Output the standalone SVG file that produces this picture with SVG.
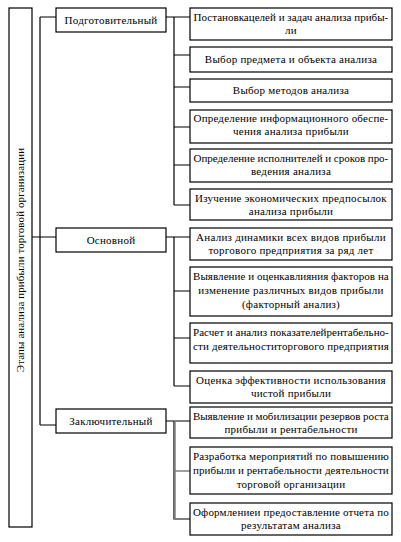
<svg xmlns="http://www.w3.org/2000/svg" width="401" height="542" viewBox="0 0 401 542">
<style>
.b{fill:#fff;stroke:#000;stroke-width:1.2}
.t{font-size:11px;letter-spacing:0.25px;fill:#000;text-anchor:middle}
.v{letter-spacing:0.1px}
.c{fill:none;stroke:#000;stroke-width:1.2}
.g{fill:none;stroke:#808080;stroke-width:1.5}
</style>
<rect width="401" height="542" fill="#fff"/>
<g id="connectors">
<path class="c" d="M40,17V425M40,17H56M32,237H56M40,425H56"/>
<path class="c" d="M166,17H174M174,17V205M174,17H190M174,55H190M174,87H190M174,127H190M174,165H190M174,205H190"/>
<path class="c" d="M166,237H190M174,237V386M174,291H190M174,338H190M174,386H190"/>
<path class="c" d="M166,421H190M174,421V519H190"/>
<path class="g" d="M175,421V519M175,471H190"/>
</g>
<g font-family="'Liberation Serif', 'Times New Roman', 'DejaVu Serif', serif">
<g id="root"><rect class="b" x="9" y="8" width="23" height="519"/><text class="t v" transform="translate(24,260) rotate(-90)">Этапы анализа прибыли торговой организации</text></g>
<g id="s1"><rect class="b" x="56" y="8" width="110" height="24"/><text class="t" x="111" y="24">Подготовительный</text></g>
<g id="s2"><rect class="b" x="56" y="228" width="110" height="24"/><text class="t" x="111" y="244">Основной</text></g>
<g id="s3"><rect class="b" x="56" y="409" width="110" height="24"/><text class="t" x="111" y="425">Заключительный</text></g>
<g id="n1"><rect class="b" x="190" y="8" width="202" height="32"/><text class="t" x="291" y="21" textLength="195" lengthAdjust="spacing">Постановкацелей и задач анализа прибы-</text><text class="t" x="291" y="34">ли</text></g>
<g id="n2"><rect class="b" x="190" y="47" width="202" height="25"/><text class="t" x="291" y="63">Выбор предмета и объекта анализа</text></g>
<g id="n3"><rect class="b" x="190" y="79" width="202" height="23"/><text class="t" x="291" y="94">Выбор методов анализа</text></g>
<g id="n4"><rect class="b" x="190" y="110" width="202" height="33"/><text class="t" x="291" y="122" textLength="195" lengthAdjust="spacing">Определение информационного обеспе-</text><text class="t" x="291" y="135">чения анализа прибыли</text></g>
<g id="n5"><rect class="b" x="190" y="149" width="202" height="33"/><text class="t" x="291" y="162" textLength="195" lengthAdjust="spacing">Определение исполнителей и сроков про-</text><text class="t" x="291" y="175">ведения анализа</text></g>
<g id="n6"><rect class="b" x="190" y="189" width="202" height="31"/><text class="t" x="291" y="202">Изучение экономических предпосылок</text><text class="t" x="291" y="215">анализа прибыли</text></g>
<g id="n7"><rect class="b" x="190" y="228" width="202" height="32"/><text class="t" x="291" y="241">Анализ динамики всех видов прибыли</text><text class="t" x="291" y="254">торгового предприятия за ряд лет</text></g>
<g id="n8"><rect class="b" x="190" y="267" width="202" height="49"/><text class="t" x="291" y="280" textLength="196" lengthAdjust="spacing">Выявление и оценкавлияния факторов на</text><text class="t" x="291" y="294">изменение различных видов прибыли</text><text class="t" x="291" y="308">(факторный анализ)</text></g>
<g id="n9"><rect class="b" x="190" y="323" width="202" height="40"/><text class="t" x="291" y="336" textLength="196" lengthAdjust="spacing">Расчет и анализ показателейрентабельно-</text><text class="t" x="291" y="350" textLength="196" lengthAdjust="spacing">сти деятельноститоргового предприятия</text></g>
<g id="n10"><rect class="b" x="190" y="371" width="202" height="32"/><text class="t" x="291" y="384">Оценка эффективности использования</text><text class="t" x="291" y="397">чистой прибыли</text></g>
<g id="n11"><rect class="b" x="190" y="407" width="202" height="31"/><text class="t" x="291" y="420" textLength="196" lengthAdjust="spacing">Выявление и мобилизации резервов роста</text><text class="t" x="291" y="433">прибыли и рентабельности</text></g>
<g id="n12"><rect class="b" x="190" y="447" width="202" height="47"/><text class="t" x="291" y="460" textLength="196" lengthAdjust="spacing">Разработка мероприятий по повышению</text><text class="t" x="291" y="474" textLength="196" lengthAdjust="spacing">прибыли и рентабельности деятельности</text><text class="t" x="291" y="488">торговой организации</text></g>
<g id="n13"><rect class="b" x="190" y="503" width="202" height="32"/><text class="t" x="291" y="516" textLength="196" lengthAdjust="spacing">Оформлениеи предоставление отчета по</text><text class="t" x="291" y="529">результатам анализа</text></g>
</g>
</svg>
